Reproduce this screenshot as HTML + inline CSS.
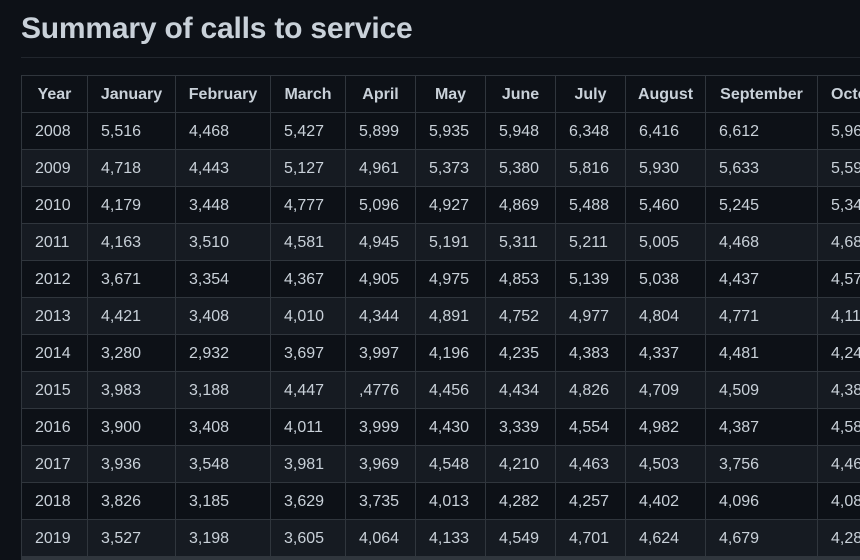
<!DOCTYPE html>
<html><head><meta charset="utf-8"><style>
html,body{margin:0;padding:0;background:#0d1117;width:860px;height:560px;overflow:hidden;font-family:"Liberation Sans",sans-serif;color:#c9d1d9}
h1{position:absolute;left:21px;top:12px;margin:0;font-size:30px;font-weight:bold;color:#c9d1d9;letter-spacing:-0.2px}
.rule{position:absolute;left:21px;top:57px;width:839px;height:1px;background:#21262d}
table{position:absolute;left:21px;top:75px;border-collapse:collapse;table-layout:fixed;width:839px}
td,th{border:1px solid #30363d;height:34px;padding:2px 0 0 13px;font-size:16px;text-align:left;white-space:nowrap;overflow:hidden}
th{font-weight:bold;color:#c9d1d9;text-align:center;padding:2px 0 0 0}
td:last-child,th:last-child{border-right:none}
tbody tr:nth-child(even){background:#161b22}
.sb{position:absolute;left:21px;top:556px;width:839px;height:4px;background:#30363d}
</style></head><body>
<h1>Summary of calls to service</h1>
<div class="rule"></div>
<table>
<colgroup><col style="width:66px"><col style="width:88px"><col style="width:95px"><col style="width:75px"><col style="width:70px"><col style="width:70px"><col style="width:70px"><col style="width:70px"><col style="width:80px"><col style="width:112px"><col style="width:43px"></colgroup>
<thead><tr><th>Year</th><th>January</th><th>February</th><th>March</th><th>April</th><th>May</th><th>June</th><th>July</th><th>August</th><th>September</th><th style="text-align:left;padding-left:13px">October</th></tr></thead>
<tbody>
<tr><td>2008</td><td>5,516</td><td>4,468</td><td>5,427</td><td>5,899</td><td>5,935</td><td>5,948</td><td>6,348</td><td>6,416</td><td>6,612</td><td>5,962</td></tr>
<tr><td>2009</td><td>4,718</td><td>4,443</td><td>5,127</td><td>4,961</td><td>5,373</td><td>5,380</td><td>5,816</td><td>5,930</td><td>5,633</td><td>5,591</td></tr>
<tr><td>2010</td><td>4,179</td><td>3,448</td><td>4,777</td><td>5,096</td><td>4,927</td><td>4,869</td><td>5,488</td><td>5,460</td><td>5,245</td><td>5,342</td></tr>
<tr><td>2011</td><td>4,163</td><td>3,510</td><td>4,581</td><td>4,945</td><td>5,191</td><td>5,311</td><td>5,211</td><td>5,005</td><td>4,468</td><td>4,683</td></tr>
<tr><td>2012</td><td>3,671</td><td>3,354</td><td>4,367</td><td>4,905</td><td>4,975</td><td>4,853</td><td>5,139</td><td>5,038</td><td>4,437</td><td>4,574</td></tr>
<tr><td>2013</td><td>4,421</td><td>3,408</td><td>4,010</td><td>4,344</td><td>4,891</td><td>4,752</td><td>4,977</td><td>4,804</td><td>4,771</td><td>4,117</td></tr>
<tr><td>2014</td><td>3,280</td><td>2,932</td><td>3,697</td><td>3,997</td><td>4,196</td><td>4,235</td><td>4,383</td><td>4,337</td><td>4,481</td><td>4,243</td></tr>
<tr><td>2015</td><td>3,983</td><td>3,188</td><td>4,447</td><td>,4776</td><td>4,456</td><td>4,434</td><td>4,826</td><td>4,709</td><td>4,509</td><td>4,381</td></tr>
<tr><td>2016</td><td>3,900</td><td>3,408</td><td>4,011</td><td>3,999</td><td>4,430</td><td>3,339</td><td>4,554</td><td>4,982</td><td>4,387</td><td>4,582</td></tr>
<tr><td>2017</td><td>3,936</td><td>3,548</td><td>3,981</td><td>3,969</td><td>4,548</td><td>4,210</td><td>4,463</td><td>4,503</td><td>3,756</td><td>4,463</td></tr>
<tr><td>2018</td><td>3,826</td><td>3,185</td><td>3,629</td><td>3,735</td><td>4,013</td><td>4,282</td><td>4,257</td><td>4,402</td><td>4,096</td><td>4,081</td></tr>
<tr><td>2019</td><td>3,527</td><td>3,198</td><td>3,605</td><td>4,064</td><td>4,133</td><td>4,549</td><td>4,701</td><td>4,624</td><td>4,679</td><td>4,282</td></tr>
</tbody></table>
<div class="sb"></div>
</body></html>
